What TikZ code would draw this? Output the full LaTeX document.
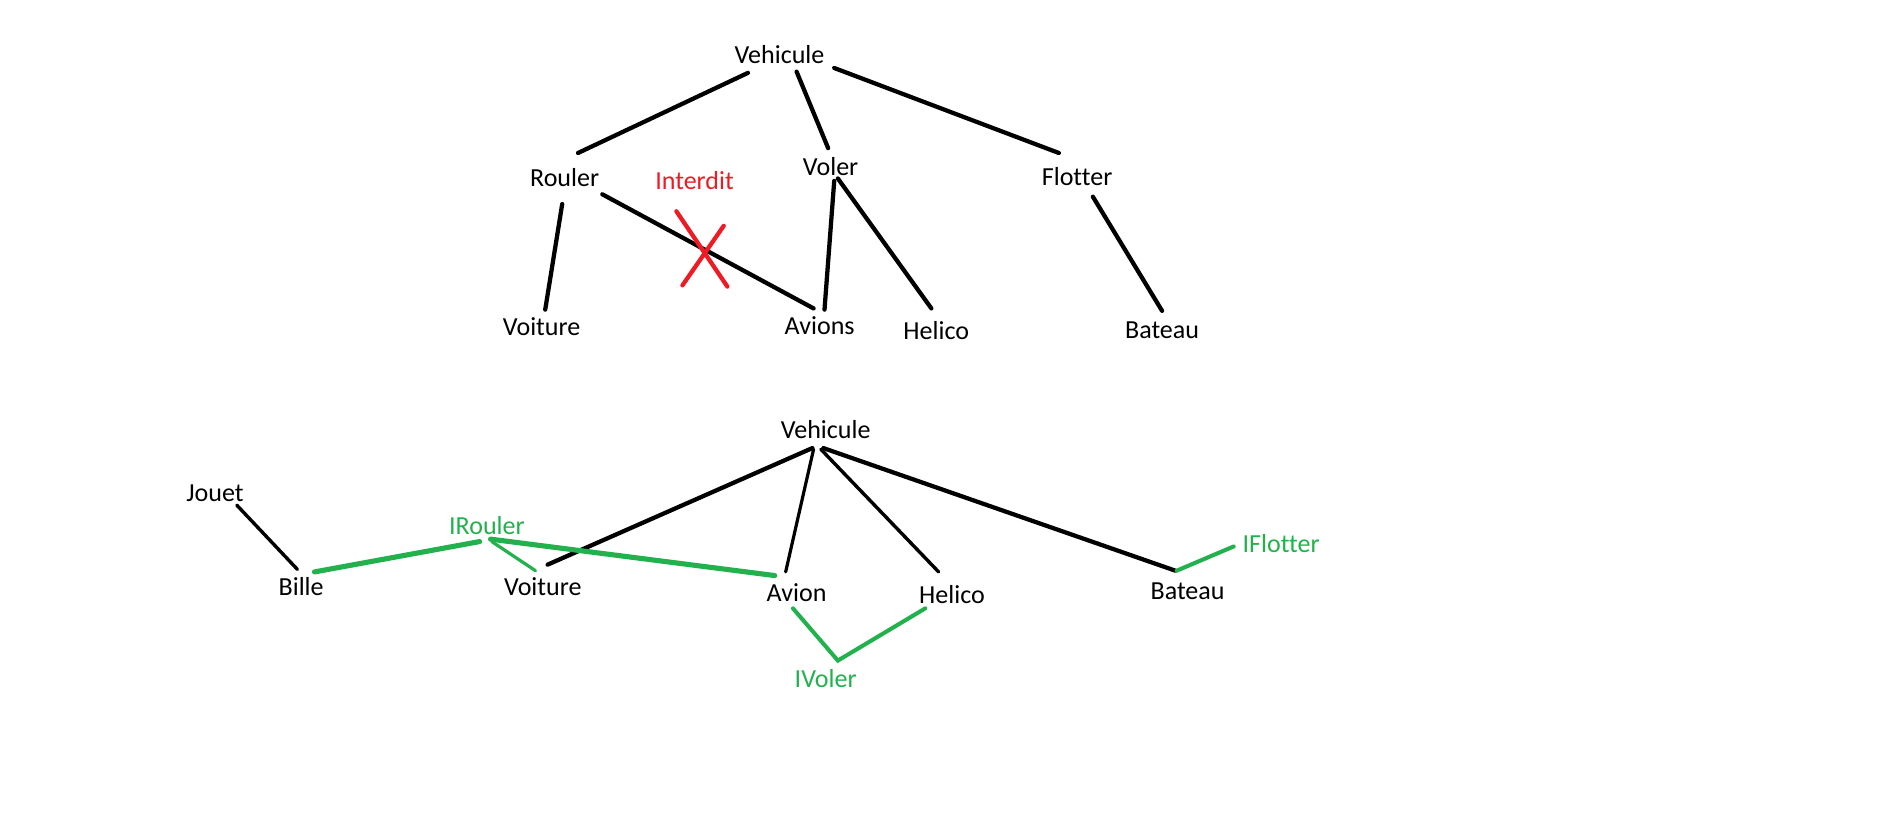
\documentclass[tikz,border=0pt]{standalone}
\usepackage{fontspec}
\setmainfont{Carlito}[Ligatures=CommonOff]
\usetikzlibrary{calc}
\definecolor{paintgreen}{RGB}{34,177,76}
\definecolor{paintred}{RGB}{237,28,36}
\tikzset{
	lbl/.style={inner sep=0pt,font=\fontsize{12.2}{14}\selectfont},
	edge/.style={line width=2pt,line cap=round},
	iface/.style={line width=1.9pt,line cap=round,paintgreen},
}
\begin{document}
\begin{tikzpicture}[x=0.02cm,y=-0.02cm]
	\useasboundingbox (0,0) rectangle (1568,678);
	% heritage multiple
	\node[lbl] (veha) at (642,45) {Vehicule};
	\node[lbl] (rou) at (465,146) {Rouler};
	\node[lbl] (vola) at (684,137) {Voler};
	\node[lbl] (flo) at (887,145) {Flotter};
	\node[lbl,paintred] (int) at (572,149) {Interdit};
	\node[lbl] (voia) at (446,269) {Voiture};
	\node[lbl] (avs) at (675,268) {Avions};
	\node[lbl] (hela) at (771,272) {Helico};
	\node[lbl] (bata) at (957,272) {Bateau};
	\draw[edge] ($(veha)+(-26,15)$)--($(rou)+(11,-20)$);
	\draw[edge] ($(veha)+(14,14)$)--($(vola)+(-2,-15)$);
	\draw[edge] ($(veha)+(45,11)$)--($(flo)+(-15,-19)$);
	\draw[edge] ($(rou)+(-2,22)$)--($(voia)+(3,-14)$);
	\draw[edge] ($(rou)+(31,14)$)--($(avs)+(-5,-14)$);
	\draw[edge] ($(vola)+(3,12)$)--($(avs)+(4,-13)$);
	\draw[edge] ($(vola)+(6,10)$)--($(hela)+(-4,-18)$);
	\draw[edge] ($(flo)+(13,17)$)--($(bata)+(0,-16)$);
	\draw[edge,paintred] ($(int)+(-15,25)$)--($(int)+(27,87)$)
		($(int)+(24,37)$)--($(int)+(-10,86)$);
	% interfaces
	\node[lbl] (vehb) at (680,354) {Vehicule};
	\node[lbl] (jou) at (177,406) {Jouet};
	\node[lbl,paintgreen] (irou) at (401,433) {IRouler};
	\node[lbl] (bil) at (248,483) {Bille};
	\node[lbl] (voib) at (447,483) {Voiture};
	\node[lbl] (avi) at (656,488) {Avion};
	\node[lbl] (helb) at (784,490) {Helico};
	\node[lbl] (batb) at (978,487) {Bateau};
	\node[lbl,paintgreen] (ifl) at (1055,448) {IFlotter};
	\node[lbl,paintgreen] (ivol) at (680,559) {IVoler};
	\draw[edge] ($(vehb)+(-11,15)$)--($(voib)+(4,-18)$);
	\draw[edge,line width=1.5pt] ($(vehb)+(-10,16)$)--($(avi)+(-9,-17)$);
	\draw[edge,line width=1.6pt] ($(vehb)+(-4,16)$)--($(helb)+(-11,-19)$);
	\draw[edge] ($(vehb)+(-2,15)$)--($(batb)+(-10,-17)$);
	\draw[edge,line width=1.6pt] ($(jou)+(18,10)$)--($(bil)+(-3,-14)$);
	\draw[iface,line width=2.4pt] ($(bil)+(11,-12)$)--($(irou)+(-6,13)$);
	\draw[iface,line width=2.4pt] ($(irou)+(3,11)$)--($(avi)+(-18,-14)$);
	\draw[iface,line width=1.5pt] ($(irou)+(4,13)$)--($(voib)+(-6,-13)$);
	\draw[iface] ($(avi)+(-3,13)$)--($(ivol)+(10,-15)$)--($(helb)+(-22,11)$);
	\draw[iface] ($(batb)+(-9,-17)$)--($(ifl)+(-39,2)$);
\end{tikzpicture}
\end{document}
